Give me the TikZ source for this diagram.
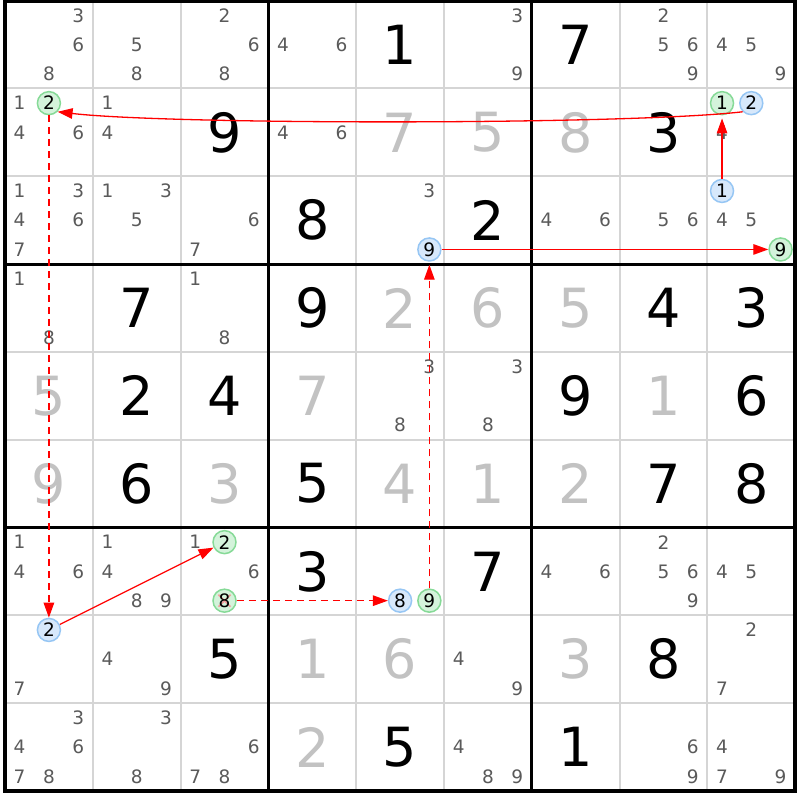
\documentclass[tikz,border=0pt]{standalone}
\usepackage{fontspec}
\setmainfont{DejaVu Sans}
\usetikzlibrary{arrows.meta}
\definecolor{candgray}{HTML}{5A5A5A}
\definecolor{solvedgray}{HTML}{C2C2C2}
\definecolor{thingrid}{HTML}{D5D5D5}
\definecolor{gring}{HTML}{86DA97}
\definecolor{gfill}{HTML}{D4F3DB}
\definecolor{bring}{HTML}{96C6F4}
\definecolor{bfill}{HTML}{D7E8FB}
\definecolor{xred}{HTML}{F29A9A}

\newcommand\cands[3]{%
  \foreach \d in {#3}{%
    \pgfmathsetmacro\cx{#2-1+(mod(\d-1,3)+0.5)/3}%
    \pgfmathsetmacro\cy{#1-1+(floor((\d-1)/3)+0.5)/3}%
    \node[candtxt] (n-#1-#2-\d) at (\cx,\cy) {\d};}}
\newcommand\val[4]{\node[#4] (v-#1-#2) at (#2-0.5,#1-0.5) {#3};}
\newcommand\hl[4]{%
  \pgfmathsetmacro\cx{#2-1+(mod(#3-1,3)+0.5)/3}%
  \pgfmathsetmacro\cy{#1-1+(floor((#3-1)/3)+0.5)/3}%
  \node[#4] (h-#1-#2-#3) at (\cx,\cy) {};}
\newcommand\hltext[3]{\node[hltxt] (t-#1-#2-#3) at (h-#1-#2-#3.center) {#3};}

\begin{document}
\begin{tikzpicture}[x=87.8pt,y=-87.8pt,
  candtxt/.style={font=\fontsize{18.5}{18.5}\selectfont, text=candgray, inner sep=0pt},
  hltxt/.style={font=\fontsize{18.5}{18.5}\selectfont, text=black, inner sep=0pt},
  given/.style={font=\fontsize{54}{54}\selectfont, text=black, inner sep=0pt},
  solved/.style={font=\fontsize{54}{54}\selectfont, text=solvedgray, inner sep=0pt},
  gcirc/.style={circle, minimum size=23pt, inner sep=0pt, draw=gring, fill=gfill, line width=1.5pt},
  bcirc/.style={circle, minimum size=23pt, inner sep=0pt, draw=bring, fill=bfill, line width=1.5pt},
  chain/.style={draw=red, line width=1.3pt, -{Triangle[length=15pt,width=10.5pt]}},
  weak/.style={chain, dash pattern=on 7pt off 5pt},
  thinline/.style={draw=thingrid, line width=2pt},
  boxline/.style={draw=black, line width=3.2pt},
  outerline/.style={draw=black, line width=4pt},
  xmark/.style={draw=xred, line width=1.6pt}
]
\useasboundingbox (-5pt,0.7pt) rectangle (795pt,-799.3pt);
\fill[white] (-5pt,0.7pt) rectangle (795pt,-799.3pt);

% grid
\foreach \i in {1,2,4,5,7,8} {
  \draw[thinline] (\i,0) -- (\i,9);
  \draw[thinline] (0,\i) -- (9,\i);
}
\foreach \i in {3,6} {
  \draw[boxline] (\i,0) -- (\i,9);
  \draw[boxline] (0,\i) -- (9,\i);
}
\draw[outerline] (0,0) rectangle (9,9);

% givens
\val{1}{5}{1}{given} \val{1}{7}{7}{given} \val{2}{3}{9}{given} \val{2}{8}{3}{given}
\val{3}{4}{8}{given} \val{3}{6}{2}{given} \val{4}{2}{7}{given} \val{4}{4}{9}{given}
\val{4}{8}{4}{given} \val{4}{9}{3}{given} \val{5}{2}{2}{given} \val{5}{3}{4}{given}
\val{5}{7}{9}{given} \val{5}{9}{6}{given} \val{6}{2}{6}{given} \val{6}{4}{5}{given}
\val{6}{8}{7}{given} \val{6}{9}{8}{given} \val{7}{4}{3}{given} \val{7}{6}{7}{given}
\val{8}{3}{5}{given} \val{8}{8}{8}{given} \val{9}{5}{5}{given} \val{9}{7}{1}{given}

% solved values
\val{2}{5}{7}{solved} \val{2}{6}{5}{solved} \val{2}{7}{8}{solved}
\val{4}{5}{2}{solved} \val{4}{6}{6}{solved} \val{4}{7}{5}{solved}
\val{5}{1}{5}{solved} \val{5}{4}{7}{solved} \val{5}{8}{1}{solved}
\val{6}{1}{9}{solved} \val{6}{3}{3}{solved} \val{6}{5}{4}{solved} \val{6}{6}{1}{solved} \val{6}{7}{2}{solved}
\val{8}{4}{1}{solved} \val{8}{5}{6}{solved} \val{8}{7}{3}{solved} \val{9}{4}{2}{solved}

% candidates
\cands{1}{1}{3,6,8} \cands{1}{2}{5,8} \cands{1}{3}{2,6,8} \cands{1}{4}{4,6}
\cands{1}{6}{3,9} \cands{1}{8}{2,5,6,9} \cands{1}{9}{4,5,9}
\cands{2}{1}{1,4,6} \cands{2}{2}{1,4} \cands{2}{4}{4,6} \cands{2}{9}{4}
\cands{3}{1}{1,3,4,6,7} \cands{3}{2}{1,3,5} \cands{3}{3}{6,7} \cands{3}{5}{3}
\cands{3}{7}{4,6} \cands{3}{8}{5,6} \cands{3}{9}{4,5}
\cands{4}{1}{1,8} \cands{4}{3}{1,8}
\cands{5}{5}{3,8} \cands{5}{6}{3,8}
\cands{7}{1}{1,4,6} \cands{7}{2}{1,4,8,9} \cands{7}{3}{1,6} \cands{7}{7}{4,6}
\cands{7}{8}{2,5,6,9} \cands{7}{9}{4,5}
\cands{8}{1}{7} \cands{8}{2}{4,9} \cands{8}{6}{4,9} \cands{8}{9}{2,7}
\cands{9}{1}{3,4,6,7,8} \cands{9}{2}{3,8} \cands{9}{3}{6,7,8} \cands{9}{6}{4,8,9}
\cands{9}{8}{6,9} \cands{9}{9}{4,7,9}

% highlighted candidates
\hl{2}{1}{2}{gcirc} \hl{2}{9}{1}{gcirc} \hl{2}{9}{2}{bcirc}
\hl{3}{5}{9}{bcirc} \hl{3}{9}{1}{bcirc} \hl{3}{9}{9}{gcirc}
\hl{7}{3}{2}{gcirc} \hl{7}{3}{8}{gcirc} \hl{7}{5}{8}{bcirc} \hl{7}{5}{9}{gcirc}
\hl{8}{1}{2}{bcirc}
\draw[xmark] ([shift={(-6pt,6pt)}]h-7-3-8.center) -- ([shift={(6pt,-6pt)}]h-7-3-8.center);
\draw[xmark] ([shift={(-6pt,-6pt)}]h-7-3-8.center) -- ([shift={(6pt,6pt)}]h-7-3-8.center);
\hltext{2}{1}{2} \hltext{2}{9}{1} \hltext{2}{9}{2}
\hltext{3}{5}{9} \hltext{3}{9}{1} \hltext{3}{9}{9}
\hltext{7}{3}{2} \hltext{7}{3}{8} \hltext{7}{5}{8} \hltext{7}{5}{9}
\hltext{8}{1}{2}

% chain
\draw[chain] (h-2-9-2.225) .. controls +(-1.3,0.15) and +(1.3,0.15) .. (h-2-1-2.315);
\draw[chain, shorten >=3pt] (h-3-9-1) -- (h-2-9-1);
\draw[chain] (h-3-5-9) -- (h-3-9-9);
\draw[weak, shorten >=3pt] (h-7-5-9) -- (h-3-5-9);
\draw[weak] (h-7-3-8) -- (h-7-5-8);
\draw[weak] (h-2-1-2) -- (h-8-1-2);
\draw[chain] (h-8-1-2) -- (h-7-3-2);
\end{tikzpicture}
\end{document}
